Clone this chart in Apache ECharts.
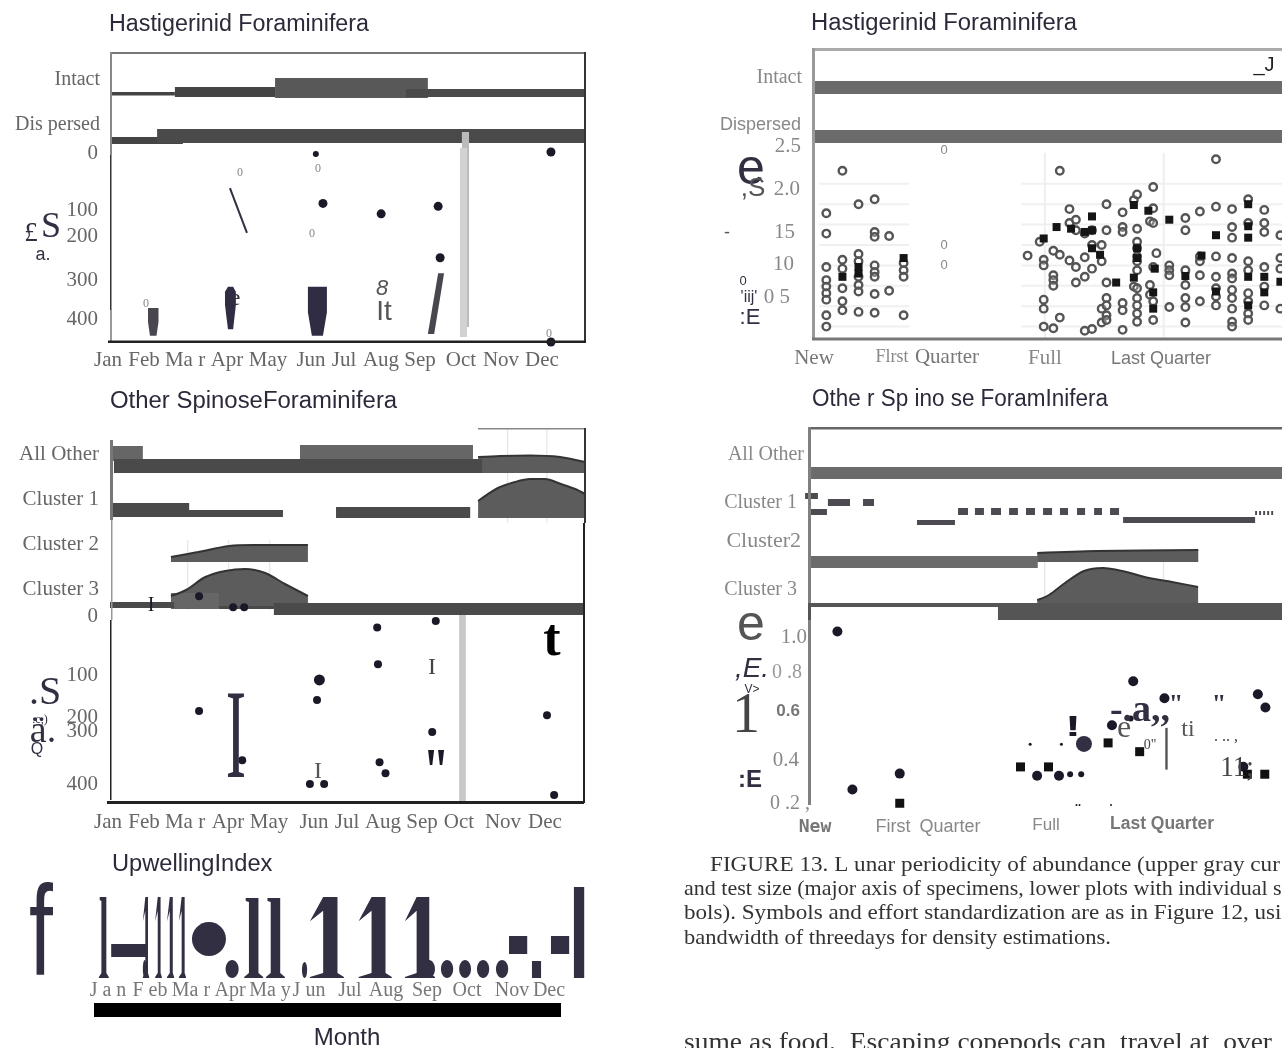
<!DOCTYPE html>
<html><head><meta charset="utf-8"><style>html,body{margin:0;padding:0;background:#fff;overflow:hidden}#c{width:1282px;height:1048px}</style>
<script src="https://cdn.jsdelivr.net/npm/echarts@6/dist/echarts.min.js"></script></head>
<body><div id="c"></div><script>
// ---- labels
const monthLabels=['Jan','Feb','Ma r','Apr','May','Jun','Jul','Aug','Sep','Oct','Nov','Dec'];
const upwellLabels=['J a n','F eb','Ma r','Apr','Ma y','J un','Jul','Aug','Sep','Oct','Nov','Dec'];
const depthTicks=['0','100','200','300','400'];
const hastRows=['Intact','Dis persed'];
const otherRows=['All Other','Cluster 1','Cluster 2','Cluster 3'];
const lunarOtherRows=['All Other','Cluster 1','Cluster2','Cluster 3'];
const captionLines=['FIGURE 13. L unar periodicity of abundance (upper gray cur','and test size (major axis of specimens, lower plots with individual s','bols). Symbols and effort standardization are as in Figure 12, usi','bandwidth of threedays for density estimations.','sume as food.  Escaping copepods can  travel at  over'];
// ---- Hastigerinid by month: presence strips [from month, to month, top, bottom]
const hastStripDark=[[0.03,1.64,42,45.5],[1.64,4.17,37,47],[0,1.84,87,94]];
const hastStripLight=[[4.17,8.03,28,48]];
const hastStripDark2=[[7.48,12,39,47],[1.19,12,79,93]];
const hastOctShade=[[8.89,9.07,82,277]];
const hastOctShade2=[[8.84,9.02,98,287]];
// ---- Hastigerinid size by month: [month, depth]
const hastDots=[[11.14,0],[5.38,124],[6.85,149],[8.29,131],[8.34,255],[11.14,458]];
const hastSmallDots=[[5.2,5]];
const hastRanges=[[[0.96,376],[1.225,376],[1.225,410],[1.175,443],[1.01,443],[0.96,410]],[[8.29,292],[8.44,292],[8.19,439],[8.03,439]]];
const hastRangesDark=[[[2.905,337],[2.98,325],[3.11,325],[3.18,337],[3.18,369],[3.11,427],[2.98,427],[2.905,369]],[[5.0,325],[5.48,325],[5.48,386],[5.38,443],[5.1,443],[5.0,386]]];
const hastStroke=[[3.03,87],[3.46,195]];
// ---- Other spinose by month
const otherStripLight=[[0,0.83,21,36],[4.8,9.17,20,35],[1.54,2.75,168,184]];
const otherStripDark=[[0.1,9.4,34,48],[0,2,78,92],[1.59,4.37,85,92],[5.71,9.1,82,93],[0,1.62,177,183],[2.75,4.14,181,184],[4.14,11.95,178,190]];
const otherOctShade=[[8.82,8.99,190,377]];
const otherFaint=[[10.03,10.06,3,98],[11.02,11.05,3,98],[1.95,1.98,115,185],[2.98,3.01,115,185],[4.02,4.05,115,185]];
const otherAllCurve=[[9.3,32],[9.86,31],[10.61,30.5],[11.37,32],[12,37]];
const otherC1Curve=[[9.3,76],[9.8,63],[10.23,57],[10.61,54],[10.99,54],[11.39,59],[11.75,64],[12,69]];
const otherC2Curve=[[1.54,132],[2.22,127],[3.01,121],[3.61,120],[5,120]];
const otherC3Curve=[[1.54,171],[1.92,165],[2.41,152],[2.91,146],[3.41,144],[3.92,148],[4.42,159],[5,171]];
const otherDots=[[8.23,14],[6.75,29],[6.77,117],[5.23,202],[2.25,228],[8.14,278],[11.04,238],[6.81,350],[6.96,376],[3.34,345],[5.05,402],[5.41,402],[11.22,428],[2.25,-45],[3.11,-19],[3.39,-19]];
const otherBigDots=[[5.29,154]];
// ---- Hastigerinid by lunar day
const gridLevels=[0.25,0.5,0.75,1,1.25,1.5,1.75,2];
const gridSpans=[[0.75,6.34],[13.3,29.5]];
const lunarPhases=[14.77,22.15];
const lunarStrip=[[0.4,29.5,31,44],[0.4,29.5,80,93]];
const lunarOpen=[[1.2,1.64],[1.2,1.39],[1.2,.98],[1.2,.82],[1.2,.74],[1.2,.66],[1.2,.58],[1.2,.39],[1.2,.25],[2.2,2.16],[2.2,1.07],[2.2,.96],[2.2,.72],[2.2,.56],[2.2,.45],[3.2,1.75],[3.2,1.14],[3.2,1.05],[3.2,.86],[3.2,.76],[3.2,.68],[3.2,.43],[4.2,1.81],[4.2,1.41],[4.2,1.35],[4.2,1],[4.2,.92],[4.2,.86],[4.2,.65],[4.2,.42],[5.1,1.36],[5.1,.69],[6,1.03],[6,.94],[6,.86],[6,.39],
[13.7,1.12],[14.7,1.07],[14.7,1],[14.7,.58],[14.7,.47],[14.7,.25],[14.45,1.29],[15.3,1.18],[15.3,.88],[15.3,.82],[15.3,.75],[15.3,.23],[15.7,2.16],[15.7,1.13],[15.7,.36],[16.3,1.69],[16.3,1.52],[16.3,1.06],[16.7,1.56],[16.7,1.43],[16.7,.98],[16.7,.79],[17.25,1.39],[17.25,1.1],[17.25,.86],[17.25,.2],[17.7,1.43],[17.7,1.25],[17.7,.96],[17.7,.22],[18.3,1.25],[18.3,1.05],[18.3,.47],[18.3,.3],[18.6,1.75],[18.6,1.43],[18.6,.79],[18.6,.6],[18.6,.51],[18.6,.39],[18.6,.33],[19.6,1.65],[19.6,1.47],[19.6,1.41],[19.6,.54],[19.6,.45],[19.6,.21],[20.3,1.8],[20.3,.74],[20.5,1.87],[20.5,1.45],[20.5,1.29],[20.5,1.21],[20.5,1.11],[20.5,1.05],[20.5,.94],[20.5,.72],[20.5,.6],[20.5,.51],[20.5,.41],[20.5,.31],[21.3,1.54],[21.3,.76],[21.3,.64],[21.5,1.96],[21.5,1.7],[21.5,1.52],[21.5,.98],[21.5,.56],[21.5,.33],[21.7,1.15],[22.5,1],[22.5,.94],[22.5,.88],[22.5,.49],[23.5,1.58],[23.5,1.43],[23.5,.94],[23.5,.76],[23.5,.6],[23.5,.49],[23.5,.3],[24.4,1.66],[24.4,1.11],[24.4,1.05],[24.4,.88],[24.4,.56],[25.4,2.3],[25.4,1.72],[25.4,1.11],[25.4,.86],[25.4,.72],[25.4,.62],[25.4,.51],[26.4,1.69],[26.4,1.47],[26.4,1.34],[26.4,1.09],[26.4,.9],[26.4,.84],[26.4,.7],[26.4,.6],[26.4,.47],[26.4,.31],[26.4,.25],[27.4,1.81],[27.4,1.52],[27.4,1.05],[27.4,.94],[27.4,.66],[27.4,.56],[27.4,.41],[27.4,.33],[28.4,1.68],[28.4,1.52],[28.4,1.41],[28.4,.98],[28.4,.74],[28.4,.51],[29.4,1.37],[29.4,1.09],[29.4,.96],[29.4,.47]];
const lunarFilled=[[2.2,.86],[3.2,.98],[3.2,.9],[6,1.09],[14.7,1.33],[15.5,1.47],[16.4,1.45],[17.25,1.41],[17.7,1.6],[17.7,1.43],[17.7,1.21],[18.2,1.13],[19.2,.79],[20.3,1.74],[20.3,.85],[20.5,1.21],[20.5,1.09],[21.2,1.67],[21.6,.96],[21.5,.67],[21.5,.47],[22.5,1.56],[23.5,.87],[24.5,1.12],[25.4,1.37],[25.4,.68],[27.4,1.75],[27.4,1.48],[27.4,1.34],[27.4,.86],[27.4,.51],[28.4,.86],[28.4,.67],[29.4,.8]];
// ---- Other spinose by lunar day
const lunarOtherBands=[[0.25,29.5,42,54],[0.25,14.33,131,143]];
const lunarOtherC1=[[-0.12,0.68,68,74],[0.25,1.24,84,90],[1.3,2.67,74,81],[3.48,4.16,74,81],[6.83,9.19,95,100],[9.38,10,83,90],[10.43,10.99,83,90],[11.43,12.05,83,90],[12.55,13.1,83,90],[13.6,14.16,83,90],[14.66,15.22,83,90],[15.71,16.21,83,90],[16.77,17.27,83,90],[17.83,18.32,83,90],[18.82,19.38,83,90],[19.63,27.83,92,98],[27.83,27.95,86,90],[28.08,28.2,86,90],[28.33,28.45,86,90],[28.58,28.7,86,90],[28.83,28.95,86,90]];
const lunarOtherBase=[[0.25,11.93,178,182],[11.86,29.5,178,195]];
const lunarOtherFaint=[[14.72,14.8,135,178],[22.1,22.18,135,178]];
const lunarC2Curve=[[14.3,128],[18,126],[24.3,125]];
const lunarC3Curve=[[14.3,175],[15.03,170],[16.02,158],[17.2,146],[18.39,143],[19.57,146],[21.24,153],[22.67,157],[24.29,162]];
const lunarDots=[[1.89,1.016],[2.82,.26],[5.76,.336],[14.29,.326],[15.65,.326],[18.94,.567],[20.26,.778],[22.2,.697],[28,.716],[28.47,.652],[27.1,.369]];
const lunarSmall=[[16.34,.333],[17.03,.333],[20.1,.6]];
const lunarTiny=[[13.86,.476],[15.8,.476]];
const lunarBig=[[17.2,.478]];
const lunarSquares=[[5.76,.194],[13.26,.368],[15,.368],[18.7,.483],[20.66,.441],[27.35,.333],[28.43,.333]];
const lunarStem=[[22.25,22.4,.355,.555]];
// ---- Upwelling index by month
const upStems=[[-.28,-.03,81],[3.39,3.87,80],[3.94,4.42,80]];
const upThinOnes=[[.83,.99,81],[1.14,1.31,81],[1.44,1.62,81],[1.74,1.92,81]];
const upOnes=[[5.05,5.91,81],[6.28,7.12,81],[7.45,8.21,81]];
const upDots=[[.83,.92,0,18],[2.07,2.93,22,56],[2.92,3.25,0,18],[4.85,4.98,0,16],[7.91,8.21,0,18],[8.36,8.67,0,18],[8.82,9.12,0,18],[9.27,9.58,0,18],[9.75,10.06,0,18]];
const upBlocks=[[.03,.91,21,34],[10.08,10.54,24,42],[10.66,10.89,0,17],[11.14,11.6,24,42],[11.72,11.98,0,91]];

// ---- page layout
const SERIF='"Liberation Serif"',SANS='"Liberation Sans"',INK='#322f42',BLK='#1b1928',BAND='#4a4a4a',MID='#5c5c5c',GREY='#6b6b6b';
const els=[];
function T(text,x,y,o={}){els.push({type:'text',x,y:y+2.5,scaleX:o.sx||1,scaleY:o.sy||1,z:100,silent:true,style:{text,fill:o.c||'#666',font:`${o.i?'italic ':''}${o.b?'bold ':''}${o.s||20}px ${o.f||SERIF}`,textAlign:o.a||'center',textVerticalAlign:'middle'}});}
function L(x,y,w,h,c){els.push({type:'rect',z:90,silent:true,shape:{x,y,width:w,height:h},style:{fill:c}});}
const title=(s,x,y,sx)=>T(s,x,y,{f:SANS,s:23,a:'left',c:'#2c2a3a',sx:sx||1});
title('Hastigerinid Foraminifera',109,22,1.012);title('Other SpinoseForaminifera',110,399,1.04);
title('Hastigerinid Foraminifera',811,21,1.035);title('Othe r Sp ino se ForamInifera',812,397,.977);
title('UpwellingIndex',112,862,1.028);T('Month',347,1036,{f:SANS,s:24,c:'#2c2a3a'});
// frames
L(110,52,475,2,'#777');L(110,52,2,103,'#888');L(110,155,1.5,155,'#333');L(110,310,2,32,'#999');L(584,52,2,290,'#333');L(108,340.5,478,2.5,'#222');
L(478,428,107,1.5,'#888');L(110,440,3,80,'#777');L(111,520,1.5,100,'#999');L(110,620,1.5,180,'#222');L(584,428,2,95,'#333');L(583,523,2,280,'#222');L(107,801,477,3,'#222');
L(812,48,470,3,'#aaa');L(812,48,3,291,'#999');L(812,337.5,470,3,'#777');
L(808,427,474,2.5,'#666');L(808,427,3,378,'#808080');L(808,603,3,17,'#555');
L(94,1003,467,14,'#000');
// row and axis text
const monthXA=[108,144,185,227,268,311,344,381,420,461,501,542],monthXB=[108,144,185,228,269,314,347,383,422,459,503,545],monthXU=[108,150,191,230,270,309,350,386,427,467,512,549];
monthLabels.forEach((m,i)=>{T(m,monthXA[i],358,{s:21});T(m,monthXB[i],820,{s:21});});
upwellLabels.forEach((m,i)=>T(m,monthXU[i],988,{s:20,c:'#777'}));
[77,122].forEach((y,i)=>T(hastRows[i],100,y,{a:'right'}));
[151,208,234,278,317].forEach((y,i)=>T(depthTicks[i],98,y,{a:'right',s:21}));
[452,497,542,587].forEach((y,i)=>T(otherRows[i],99,y,{a:'right',s:21}));
[614,673,715,729,782].forEach((y,i)=>T(depthTicks[i],98,y,{a:'right',s:21}));
T('Intact',802,75,{a:'right',c:'#888'});T('Dispersed',801,123,{a:'right',s:18,f:SANS,c:'#888'});
T('2.5',801,144,{a:'right',s:21,c:'#888'});T('2.0',800,187,{a:'right',s:21,c:'#888'});T('15',795,230,{a:'right',s:21,c:'#888'});T('10',794,262,{a:'right',s:21,c:'#888'});T('0 5',790,295,{a:'right',s:21,c:'#888'});
T('New',814,356,{s:21,c:'#777'});T('Flrst',892,355,{s:18,c:'#888'});T('Quarter',947,355,{s:21,c:'#777'});T('Full',1045,356,{s:21,c:'#888'});T('Last Quarter',1161,357,{s:18,f:SANS,c:'#777'});
[[804,452,20],[797,500,20],[801,539,22],[797,587,20]].forEach((p,i)=>T(lunarOtherRows[i],p[0],p[1],{a:'right',c:'#888',s:p[2]}));
T('1.0',807,635,{a:'right',s:21,c:'#888'});T('0 .8',802,670,{a:'right',s:20,c:'#999'});T('0.6',800,709,{a:'right',s:17,b:1,f:SANS,c:'#777'});T('0.4',799,758,{a:'right',s:21,c:'#888'});T('0 .2 ,',810,801,{a:'right',s:20,c:'#888'});
T('New',815,825,{s:18,b:1,f:'"DejaVu Sans Mono"',c:'#777'});T('First',893,825,{s:18,f:SANS,c:'#888'});T('Quarter',950,825,{s:18,f:SANS,c:'#888'});T('Full',1046,823,{s:17,f:SANS,c:'#888'});T('Last Quarter',1162,822,{s:17.5,b:1,f:SANS,c:'#777'});
// scanned glyph residue
T('£',31,231,{s:27,c:INK});T('S',51,225,{s:36,c:INK});T('a.',43,253,{s:18,f:SANS,c:INK});
[[240,170],[318,166],[312,231],[146,301],[549,331]].forEach(p=>T('0',p[0],p[1],{s:12,c:'#888'}));
T('e',235,296,{s:24,c:INK});T('8',382,286,{s:22,i:1,f:SANS,c:'#555'});T('It',384,310,{s:28,f:SANS,c:'#555'});
T('.S',45,691,{s:40,c:INK});T('.c,)',40,717,{s:12,c:INK});T('ä.',43,730,{s:38,c:INK});T('Q',37,747,{s:16,f:SANS,c:INK});
T('I',151,603,{s:20,c:BLK});T('I',236,741,{s:127,sx:.48,c:INK});T('I',318,769,{s:24,c:'#555'});T('I',432,665,{s:24,c:'#444'});T('t',552,639,{s:52,b:1,c:'#000'});T('"',436,773,{s:48,b:1,sy:1.3,c:BLK});
T('e',751,168,{s:50,f:SANS,c:INK});T(',S',753,186,{s:26,f:SANS,c:'#555'});T('-',727,231,{s:18,f:SANS,c:'#555'});T('0',743,279,{s:13,f:SANS,c:INK});T("'iij'",749,295,{s:16,f:SANS,c:INK});T(':E',750,315,{s:22,f:SANS,c:INK});T('_J',1264,63,{s:20,f:SANS,c:'#222'});
[[944,148],[944,243],[944,263]].forEach(p=>T('0',p[0],p[1],{s:13,f:SANS,c:'#888'}));
T('e',751,624,{s:50,f:SANS,c:'#555'});T(',E.',752,667,{s:28,i:1,f:SANS,c:INK});T('V>',752,687,{s:12,f:SANS,c:INK});T('1',746,715,{s:56,c:'#444'});T(':E',750,778,{s:24,b:1,f:SANS,c:INK});
T('!',1073,725,{s:30,b:1,sx:1.6,f:SANS,c:BLK});T('e',1124,726,{s:32,c:'#555'});T('-.a,,',1140,709,{s:38,b:1,c:INK});T('"',1176,703,{s:26,b:1,c:INK});T('"',1219,703,{s:26,b:1,c:INK});T('ti',1188,727,{s:24,c:'#555'});T('. .. ,',1226,734,{s:16,c:'#444'});T('11;',1237,766,{s:30,sx:.9,c:'#444'});T('0"',1150,743,{s:14,c:'#444'});T('..',1078,800,{s:12,b:1,c:BLK});T('.',1111,800,{s:12,b:1,c:BLK});
T('f',41,937,{s:130,f:SANS,sx:.66,sy:.98,c:INK});
// caption
[[710,863,21,1.103],[684,887,21,1.05],[684,911,21,1.1],[684,936,21,1.07],[684,1041,25,1.1]].forEach((p,i)=>T(captionLines[i],p[0],p[1],{a:'left',s:p[2],sx:p[3],c:'#333'}));

// ---- grids: whole-panel strip grids and lower measurement grids
const M={min:0,max:12},D={min:0,max:29.5};
const gridSpec=[[110,50,475,292,M,0,292,1],[110,152,475,190,M,0,458,1],[110,425,475,378,M,0,378,1],[110,590,475,213,M,-60,447,1],[807,50,475,292,D,0,292,1],[807,143,475,204,D,0,2.5,0],[807,425,475,380,D,0,380,1],[807,614,475,188,D,.2,1.1,0],[110,880,475,98,M,0,98,0]];
const grid=[],xAxis=[],yAxis=[];
gridSpec.forEach((g,i)=>{grid.push({left:g[0],top:g[1],width:g[2],height:g[3]});
 xAxis.push({type:'value',gridIndex:i,min:g[4].min,max:g[4].max,show:false});
 yAxis.push({type:'value',gridIndex:i,min:g[5],max:g[6],inverse:!!g[7],show:false});});
const series=[];
const on=i=>({xAxisIndex:i,yAxisIndex:i,silent:true});
function rects(i,data,color){series.push({...on(i),type:'custom',encode:{x:[0,1],y:[2,3]},data,renderItem:(p,api)=>{const a=api.coord([api.value(0),api.value(2)]),b=api.coord([api.value(1),api.value(3)]);return{type:'rect',shape:{x:Math.min(a[0],b[0]),y:Math.min(a[1],b[1]),width:Math.abs(a[0]-b[0]),height:Math.abs(a[1]-b[1])},style:{fill:color}};}});}
function polys(i,shapes,color){series.push({...on(i),type:'custom',data:shapes.map((s,k)=>[k]),encode:{x:-1,y:-1},renderItem:(p,api)=>({type:'polygon',shape:{points:shapes[p.dataIndex].map(q=>api.coord(q))},style:{fill:color}})});}
function dots(i,data,size,color,sym,extra){series.push({...on(i),type:'scatter',clip:false,data,symbol:sym||'circle',symbolSize:size,itemStyle:{color,opacity:1,...(extra||{})}});}
function curve(i,data,base){series.push({...on(i),type:'line',z:2,data,smooth:.3,showSymbol:false,clip:false,lineStyle:{color:'#333',width:2},areaStyle:{color:MID,opacity:1,origin:base}});}
function ellipses(i,data,color){series.push({...on(i),type:'custom',encode:{x:[0,1],y:[2,3]},data,renderItem:(p,api)=>{const a=api.coord([api.value(0),api.value(2)]),b=api.coord([api.value(1),api.value(3)]);return{type:'ellipse',shape:{cx:(a[0]+b[0])/2,cy:(a[1]+b[1])/2,rx:Math.abs(a[0]-b[0])/2,ry:Math.abs(a[1]-b[1])/2},style:{fill:color}};}});}
// glyph-like bars: stem + foot, optionally a flag
function glyphBars(i,data,color,flag,stem){series.push({...on(i),type:'custom',encode:{x:[0,1],y:2},data,renderItem:(p,api)=>{const a=api.coord([api.value(0),0]),b=api.coord([api.value(1),api.value(2)]);
 const w=b[0]-a[0],cx=flag?a[0]+w*.6:a[0]+w/2,sw=w*stem,top=b[1],bot=a[1],ft=5;
 const pts=flag?[[cx-sw/2,bot-ft],[cx-sw/2,top+(bot-top)*.17],[a[0],top+(bot-top)*.3],[cx-sw/2,top],[cx+sw/2,top],[cx+sw/2,bot-ft],[b[0],bot-1],[b[0],bot],[a[0],bot],[a[0],bot-1]]
  :[[a[0]+w*.08,top],[cx+sw/2,top],[cx+sw/2,bot-ft],[b[0],bot-1],[b[0],bot],[a[0],bot],[a[0],bot-1],[cx-sw/2,bot-ft],[cx-sw/2,top+4],[a[0]+w*.08,top+3]];
 return{type:'polygon',shape:{points:pts},style:{fill:color}};}});}
// panel A
rects(0,hastStripLight,'#585858');rects(0,hastStripDark,'#444');rects(0,hastStripDark2,BAND);rects(0,hastOctShade,'#bbb');rects(0,hastOctShade2,'#d2d2d2');
polys(1,hastRanges,'#4a464f');polys(1,hastRangesDark,'#2f2c44');
series.push({...on(1),type:'line',data:hastStroke,showSymbol:false,clip:false,lineStyle:{color:INK,width:2}});
dots(1,hastDots,9,BLK);dots(1,hastSmallDots,6,BLK);
// panel B
rects(2,otherFaint,'#e6e6e6');curve(2,otherAllCurve,48);curve(2,otherC1Curve,93);curve(2,otherC2Curve,137);curve(2,otherC3Curve,183);
rects(2,otherStripLight,'#666');rects(2,otherStripDark,BAND);rects(2,otherOctShade,'#c8c8c8');
dots(3,otherDots,8,BLK);dots(3,otherBigDots,11,BLK);
// panel C
rects(5,gridLevels.flatMap(v=>gridSpans.map(s=>[s[0],s[1],v-.012,v+.012])),'#f0f0f0');
rects(5,lunarPhases.map(d=>[d-.06,d+.06,.1,2.38]),'#eee');
rects(4,lunarStrip,GREY);
dots(5,lunarOpen,7.5,'rgba(255,255,255,.25)','circle',{borderColor:'#555',borderWidth:2.4});
dots(5,lunarFilled,8,'#151515','rect');
// panel D
rects(6,lunarOtherBands,GREY);rects(6,lunarOtherC1,'#4d4a52');rects(6,lunarOtherFaint,'#e6e6e6');
curve(6,lunarC2Curve,137);curve(6,lunarC3Curve,178);rects(6,lunarOtherBase,'#555');
dots(7,lunarDots,10,BLK);dots(7,lunarSmall,6,BLK);dots(7,lunarTiny,3,BLK);dots(7,lunarBig,16,INK);dots(7,lunarSquares,9,'#111','rect');
rects(7,lunarStem,'#555');
// panel E
glyphBars(8,upStems,INK,false,.5);glyphBars(8,upThinOnes,INK,true,.42);glyphBars(8,upOnes,INK,true,.42);ellipses(8,upDots,INK);rects(8,upBlocks,INK);

const chart=echarts.init(document.getElementById('c'),null,{renderer:'canvas'});
chart.setOption({animation:false,backgroundColor:'#fff',grid,xAxis,yAxis,series,graphic:{elements:els}});
</script></body></html>
